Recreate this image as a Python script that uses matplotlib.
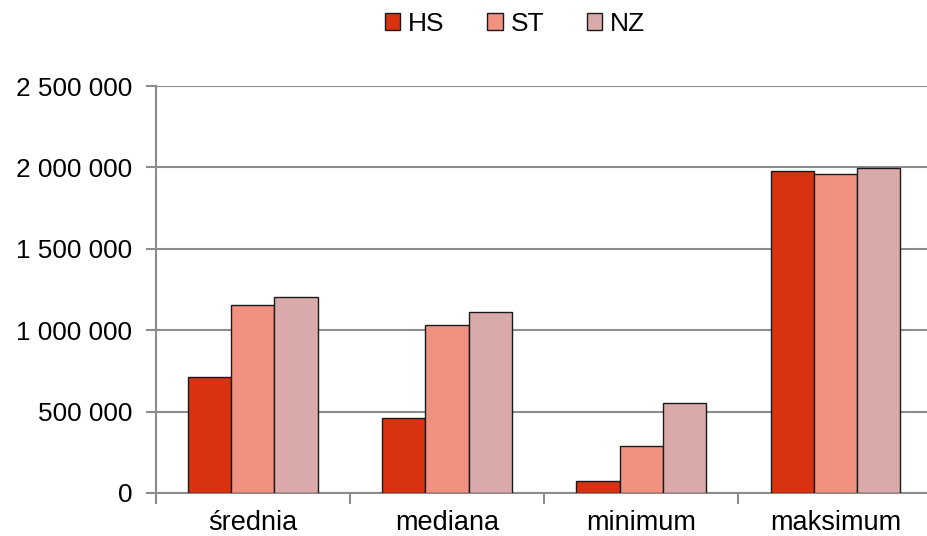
import numpy as np
import matplotlib.pyplot as plt
from matplotlib.ticker import FuncFormatter, FixedLocator

categories = ['średnia', 'mediana', 'minimum', 'maksimum']
series_names = ['HS', 'ST', 'NZ']
hs = [711000, 461000, 76000, 1978000]
st = [1154000, 1032000, 289000, 1961000]
nz = [1203000, 1112000, 550000, 1996000]
colors = ['#D93210', '#F0927F', '#DAAAAA']

plt.rcParams['font.family'] = ['Liberation Sans', 'DejaVu Sans']

fig = plt.figure(figsize=(9.28, 5.36), dpi=100)
ax = fig.add_axes([155.7 / 928, 43 / 536, 776.8 / 928, 407 / 536])

x = np.arange(len(categories))
w = 1 / 4.5
for i, (vals, name) in enumerate(zip([hs, st, nz], series_names)):
    ax.bar(x + (i - 1) * w, vals, width=w, color=colors[i], edgecolor='#1a1a1a',
           linewidth=1.0, label=name, zorder=3)

ax.set_xlim(-0.5, len(categories) - 0.5)
ax.set_ylim(0, 2500000)
ax.set_yticks(np.arange(0, 2500001, 500000))
ax.yaxis.set_major_formatter(FuncFormatter(lambda v, p: f'{int(v):,}'.replace(',', ' ')))
ax.grid(axis='y', color='#8c8c8c', linewidth=1.5, zorder=0)

ax.set_xticks(x)
ax.set_xticklabels(categories)
ax.xaxis.set_minor_locator(FixedLocator(np.arange(-0.5, len(categories), 1)))
ax.tick_params(axis='x', which='major', length=0, labelsize=19.5, pad=12)
ax.tick_params(axis='x', which='minor', length=8, width=1.5, color='#8c8c8c')
ax.tick_params(axis='y', length=7, width=1.5, color='#8c8c8c', labelsize=18.8, pad=10)

for s in ['top', 'right']:
    ax.spines[s].set_visible(False)
for s in ['left', 'bottom']:
    ax.spines[s].set_color('#8c8c8c')
    ax.spines[s].set_linewidth(1.5)

fig.legend(loc='upper center', bbox_to_anchor=(0.555, 1.022), ncol=3, frameon=False,
           fontsize=19, handlelength=0.6, handleheight=0.6, handletextpad=0.3,
           columnspacing=1.6)

fig.savefig('out.png', dpi=100)
